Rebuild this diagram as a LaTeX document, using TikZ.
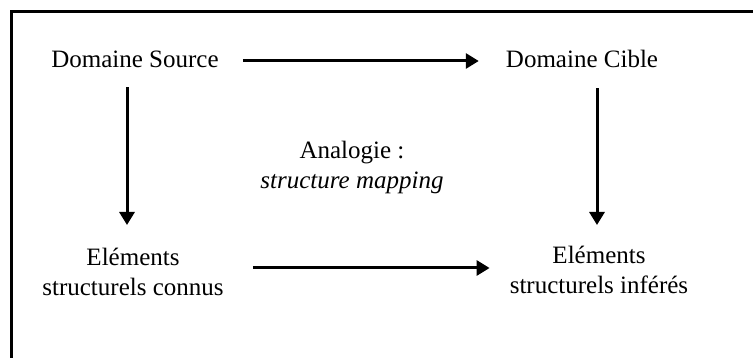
\documentclass[tikz,border=0pt]{standalone}
\usepackage{fontspec}
\setmainfont{Liberation Serif}
\usetikzlibrary{arrows.meta,calc}
\begin{document}
\begin{tikzpicture}[x=1pt,y=-1pt,
  lbl/.style={inner sep=0pt,align=center,font=\fontsize{25}{30}\selectfont},
  arr/.style={line width=3pt,-{Triangle[length=13pt,width=15pt]}}]
\useasboundingbox (0,0) rectangle (753,358);
\draw[line width=3pt,line join=miter] (11.5,360) -- (11.5,11.5) -- (755,11.5);
\node[lbl,anchor=base] (ds) at (135,67.5) {Domaine Source};
\node[lbl,anchor=base] (dc) at (582,67.5) {Domaine Cible};
\node[lbl,anchor=north] (ek) at (133,248) {Eléments\\structurels connus};
\node[lbl,anchor=north] (ei) at (599,246) {Eléments\\structurels inférés};
\node[lbl,anchor=north] (an) at (352,141) {Analogie :\\\textit{structure mapping}};
\draw[arr] ([xshift=24pt,yshift=6.5pt]ds.base east) -- ([xshift=-27pt,yshift=6.5pt]dc.base west);
\draw[arr] ([xshift=-8pt,yshift=-20pt]ds.base) -- ([xshift=-6pt,yshift=23pt]ek.north);
\draw[arr] ([xshift=15pt,yshift=-21pt]dc.base) -- ([xshift=-2pt,yshift=21pt]ei.north);
\draw[arr] ($(ek.north -| ek.east)+(29,20)$) -- ($(ek.north -| ei.west)+(-20,20)$);
\end{tikzpicture}
\end{document}
